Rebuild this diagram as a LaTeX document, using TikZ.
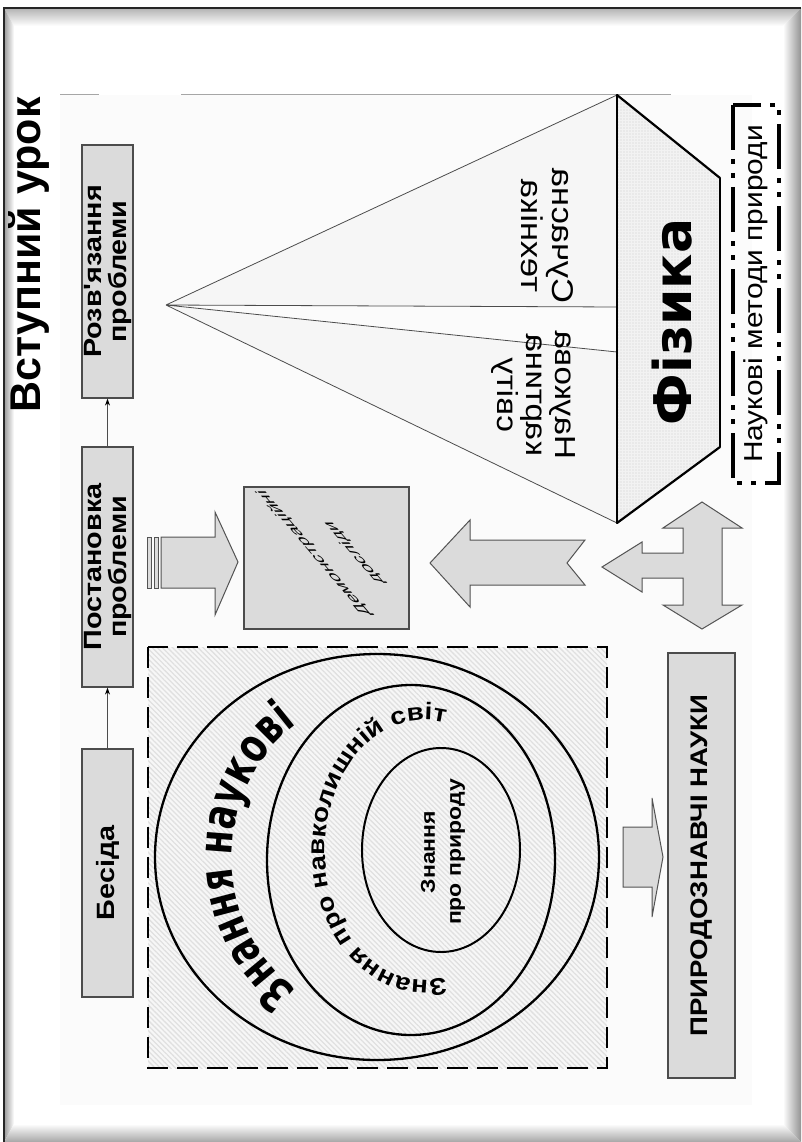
\documentclass[tikz,border=0pt]{standalone}
\usepackage{fontspec}
\setmainfont{Liberation Sans}
\newfontfamily\widesans{Liberation Sans}[FakeStretch=1.15]
\newfontfamily\heavysans{DejaVu Sans}[FakeStretch=0.74]
\newfontfamily\blacksans{DejaVu Sans}
\usetikzlibrary{patterns.meta,decorations.text,arrows.meta}

\tikzset{
  panel/.style={draw=gray!60!black, line width=1.2, fill=gray!28, inner sep=0pt,
                align=center, text=black},
  flow/.style={draw=gray!60!black, line width=1, -{Stealth[length=7,width=5,black]}},
  blockarrow/.style={fill=gray!28, draw=gray!65!black, line width=1, line join=miter},
  facet/.style={draw=gray!60!black, line width=0.8},
  ring/.style={draw=black, line width=2.3},
  boxfont/.style={font=\widesans\bfseries\fontsize{25}{25}\selectfont},
}

\begin{document}
\begin{tikzpicture}[x=1pt,y=1pt]
\useasboundingbox (0,0) rectangle (801,-1142);
\fill[white] (0,0) rectangle (801,-1142);

% bevelled frame of the sheet
\shade[top color=gray!60, bottom color=white] (4,-8) -- (801,-8) -- (783,-26) -- (14,-26) -- cycle;
\shade[left color=gray!80, right color=white] (4,-8) -- (14,-26) -- (14,-1124) -- (4,-1142) -- cycle;
\shade[left color=white, right color=gray!85] (801,-8) -- (801,-1142) -- (783,-1124) -- (783,-26) -- cycle;
\shade[top color=white, bottom color=gray!70] (4,-1142) -- (14,-1124) -- (783,-1124) -- (801,-1142) -- cycle;
\draw[black!85, line width=1.2] (4,-1142) -- (4,-8) -- (801,-8);

% working area
\fill[black!1.5] (60,-95) rectangle (752,-1105);
\draw[gray!70, line width=1] (60,-95) -- (99,-95) (181,-95) -- (671,-95);

% title
\node[rotate=90, font=\bfseries\fontsize{43}{45}\selectfont] (title) at (29,-255) {Вступний урок};

% lesson stages
\node[panel, boxfont, rotate=90, minimum width=253, minimum height=51] (rozv) at (107.5,-271.5) {Розв'язання\\проблеми};
\node[panel, boxfont, rotate=90, minimum width=240, minimum height=51] (post) at (107.5,-567) {Постановка\\проблеми};
\node[panel, boxfont, rotate=90, minimum width=248, minimum height=51] (besida) at (107.5,-873) {Бесіда};
\draw[flow] (besida.east) -- (post.west);
\draw[flow] (post.east) -- (rozv.west);

% pyramid of physics
\coordinate (apex) at (166,-305);
\coordinate (ptop) at (617,-95);
\coordinate (pbot) at (617,-523);
\coordinate (pmid1) at (617,-307);
\coordinate (pmid2) at (617,-352);
\coordinate (rtop) at (720,-178);
\coordinate (rbot) at (720,-447);
\fill[gray!7] (apex) -- (ptop) -- (pbot) -- cycle;
\fill[gray!3] (apex) -- (pmid1) -- (pmid2) -- cycle;
\draw[facet] (apex) -- (ptop) (apex) -- (pmid1) (apex) -- (pmid2) (apex) -- (pbot);
\fill[gray!10] (ptop) -- (rtop) -- (rbot) -- (pbot) -- cycle;
\fill[pattern={Dots[distance=3pt, radius=0.6pt]}, pattern color=gray!40] (ptop) -- (rtop) -- (rbot) -- (pbot) -- cycle;
\draw[black, line width=1.4] (ptop) -- (pbot) (rtop) -- (rbot);
\draw[black, line width=2.2, line cap=round] (ptop) -- (rtop) (rbot) -- (pbot);

\node[rotate=90, yscale=-1, align=center, font=\widesans\fontsize{30}{31}\selectfont] (tech) at (547,-236) {Сучасна\\техніка};
\node[rotate=90, yscale=-1, align=center, font=\widesans\fontsize{29}{29}\selectfont] (picture) at (533,-395) {Наукова\\картина\\світу};
\node[rotate=90, font=\blacksans\bfseries\fontsize{52}{52}\selectfont] (fiz) at (672,-322) {Фізика};

% scientific methods frame
\node[rotate=90, draw=black, line width=4, dash pattern=on 45 off 9 on 5 off 9 on 5 off 9,
      minimum width=378, minimum height=46, inner sep=0pt,
      font=\widesans\fontsize{26}{26}\selectfont] (methods) at (756,-294) {Наукові методи природи};

% demonstrations
\node[panel, minimum width=165, minimum height=142] (demo) at (326.5,-558) {};
\node[rotate=90, yslant=0.857, align=center, font=\widesans\fontsize{15}{40}\selectfont] (demotext) at (334,-553) {Демонстраційні\\досліди};

% block arrows
\fill[blockarrow] (147,-537) rectangle (151,-588);
\fill[blockarrow] (154,-537) rectangle (158,-588);
\path[blockarrow] (161,-537) -- (215,-537) -- (215,-512) -- (238,-562) -- (215,-615) -- (215,-588) -- (161,-588) -- cycle;
\path[blockarrow] (430,-563) -- (470,-520) -- (470,-540) -- (585,-540) -- (567,-563) -- (585,-585) -- (470,-585) -- (470,-607) -- cycle;
\path[blockarrow] (602,-567) -- (642,-542) -- (642,-553) -- (683,-553) -- (683,-528) -- (663,-528) -- (702,-502)
  -- (742,-528) -- (722,-528) -- (722,-605) -- (742,-605) -- (702,-629) -- (663,-605) -- (683,-605)
  -- (683,-578) -- (642,-578) -- (642,-592) -- cycle;
\path[blockarrow] (623,-827) -- (652,-827) -- (652,-798) -- (663,-857) -- (652,-917) -- (652,-887) -- (623,-887) -- cycle;

% knowledge field
\fill[gray!6] (148,-647) rectangle (607,-1068);
\fill[pattern={Lines[angle=-45, distance=3.6pt, line width=1.3pt]}, pattern color=gray!24] (148,-647) rectangle (607,-1068);
\draw[black, line width=2.5, dash pattern=on 21 off 9] (148,-647) rectangle (607,-1068);
\draw[ring] (377,-857) ellipse [x radius=222, y radius=203];
\draw[ring] (411,-860) ellipse [x radius=144, y radius=175];
\draw[ring, line width=2] (441,-850) ellipse [x radius=79, y radius=102];

\path[decorate, decoration={text along path, text align=center,
    text={|\heavysans\bfseries\fontsize{47}{47}\selectfont|Знання наукові}}]
  (378,-857) ++(270:146 and 160) arc[start angle=270, end angle=90, x radius=146, y radius=160];
\path[decorate, decoration={text along path, text align=center,
    text={|\widesans\bfseries\fontsize{24}{24}\selectfont|Знання про навколишній світ}}]
  (425,-850) ++(300:100 and 130) arc[start angle=300, end angle=60, x radius=100, y radius=130];
\node[rotate=90, align=center, font=\widesans\bfseries\fontsize{20}{26}\selectfont] (nature) at (443,-852) {Знання\\про природу};

% natural sciences
\node[panel, rotate=90, minimum width=425, minimum height=67,
      font=\widesans\bfseries\fontsize{24}{24}\selectfont] (nauky) at (701.5,-865.5) {ПРИРОДОЗНАВЧІ НАУКИ};
\end{tikzpicture}
\end{document}
